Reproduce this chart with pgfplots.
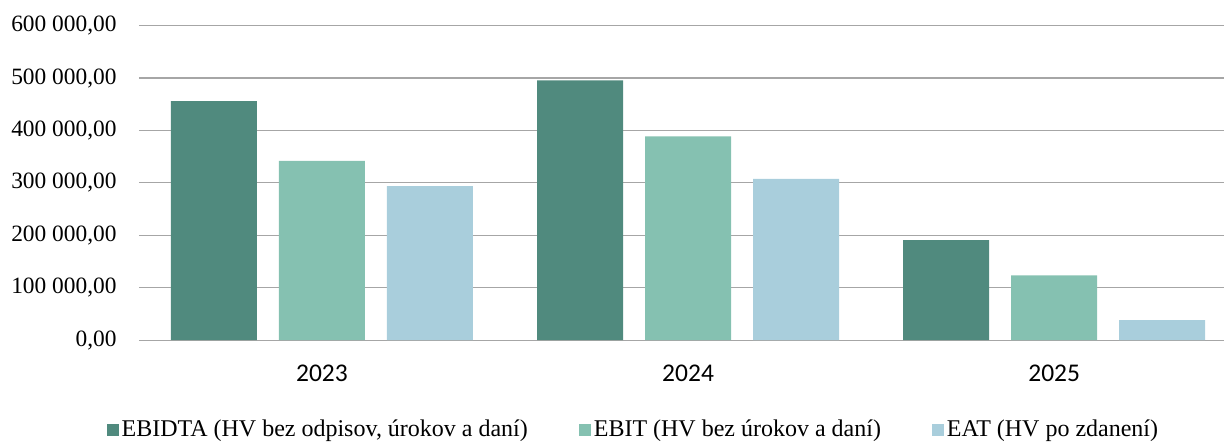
\documentclass[border=0pt]{standalone}
\usepackage{fontspec}
\setmainfont{Liberation Serif}
\newfontfamily\calibri{Carlito}
\usepackage{pgfplots}
\pgfplotsset{compat=1.18}

\definecolor{cEbidta}{RGB}{80,138,126}
\definecolor{cEbit}{RGB}{133,193,177}
\definecolor{cEat}{RGB}{169,206,220}
\definecolor{gridgray}{RGB}{166,166,166}

\begin{document}
\begin{tikzpicture}
\begin{axis}[
  scale only axis,
  width=543pt, height=157.3pt,
  ybar, bar width=0.235,
  xmin=-0.5, xmax=2.465,
  ymin=0, ymax=600000,
  ytick={0,100000,...,600000},
  xtick={0,1,2},
  xticklabels={2023,2024,2025},
  axis line style={draw=none},
  major tick length=0pt,
  ymajorgrids=true,
  grid style={gridgray, line width=0.6pt},
  scaled y ticks=false,
  yticklabel style={
    /pgf/number format/.cd, fixed, fixed zerofill, precision=2,
    use comma, 1000 sep={\ }, assume math mode=true,
    /tikz/.cd, font=\fontsize{11.7}{14}\selectfont, inner sep=0pt, xshift=-11pt},
  xticklabel style={font=\calibri\fontsize{12.75}{15}\selectfont,
    inner sep=0pt, anchor=north, yshift=-12.3pt},
  legend columns=3,
  legend style={at={(0.456,-0.285)}, anchor=center, draw=none,
    font=\fontsize{12}{14}\selectfont,
    /tikz/every even column/.append style={column sep=24pt},
    nodes={inner sep=1.5pt}},
  legend image code/.code={\fill[#1] (0pt,-3pt) rectangle (6pt,3pt);},
]
\addplot[fill=cEbidta, draw=none, bar shift=-0.295]
  coordinates {(0,456000) (1,495500) (2,191000)};
\addlegendentry{EBIDTA (HV bez odpisov, úrokov a daní)}
\addplot[fill=cEbit, draw=none, bar shift=0]
  coordinates {(0,342000) (1,389000) (2,123500)};
\addlegendentry{EBIT (HV bez úrokov a daní)}
\addplot[fill=cEat, draw=none, bar shift=0.295]
  coordinates {(0,293700) (1,307600) (2,38000)};
\addlegendentry{EAT (HV po zdanení)}
\end{axis}
\path[use as bounding box] ([xshift=-69.5pt, yshift=-50.35pt]current axis.south west)
  rectangle ([yshift=12.85pt]current axis.north east);
\end{tikzpicture}
\end{document}
